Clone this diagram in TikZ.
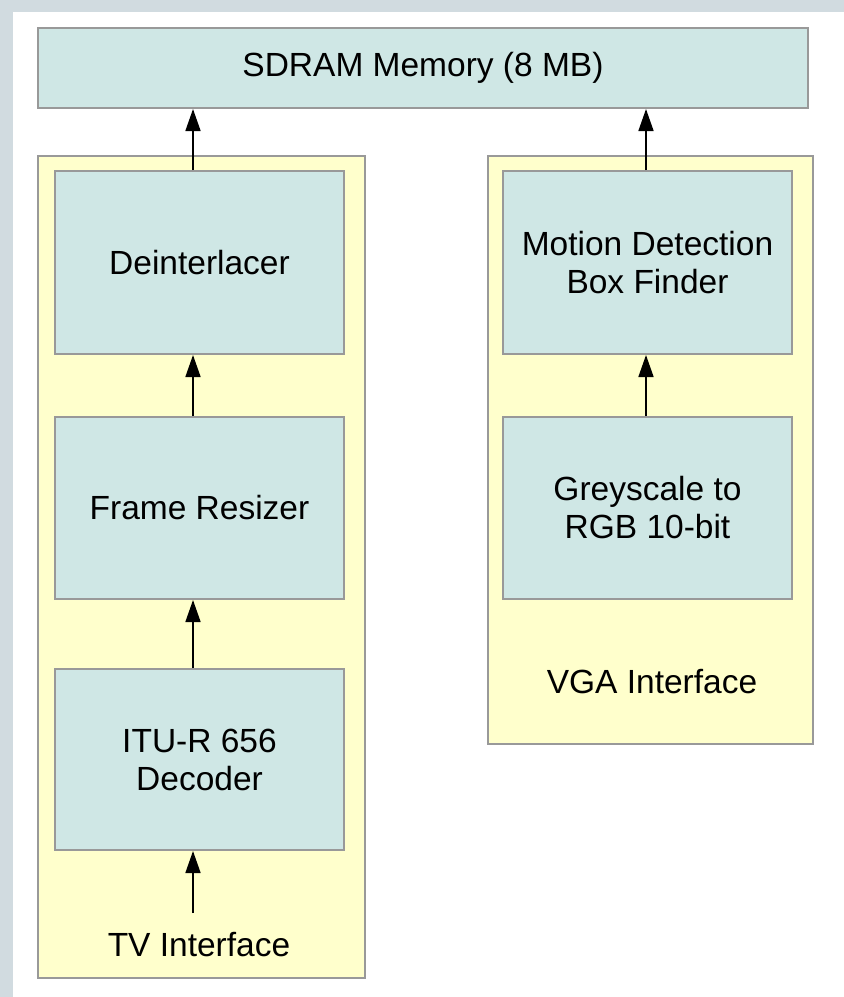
\documentclass[tikz,border=0pt]{standalone}
\usepackage{fontspec}
\setmainfont{Liberation Sans}
\usetikzlibrary{arrows.meta}
\definecolor{framebg}{HTML}{D1DBE0}
\definecolor{boxfill}{HTML}{CFE7E5}
\definecolor{contfill}{HTML}{FFFFCC}
\definecolor{edge}{HTML}{999999}
\begin{document}
\begin{tikzpicture}[x=1pt,y=-1pt,
  lbl/.style={font=\fontsize{33.5}{38}\selectfont, align=center, text=black},
  box/.style={draw=edge, line width=2pt, fill=boxfill, inner sep=0pt, lbl},
  cont/.style={draw=edge, line width=2pt, fill=contfill, inner sep=0pt},
  arr/.style={-{Triangle[length=22pt,width=15pt]}, line width=1.6pt, black}]
\useasboundingbox (0,0) rectangle (844,997);
\fill[framebg] (0,0) rectangle (844,997);
\fill[white] (13,12) rectangle (844,997);
% containers
\node[cont, minimum width=327pt, minimum height=822pt, anchor=north west] (tv) at (37,155) {};
\node[cont, minimum width=325pt, minimum height=588pt, anchor=north west] (vga) at (487,155) {};
% boxes
\node[box, minimum width=770pt, minimum height=80pt, anchor=north west] (sdram) at (37,27) {SDRAM Memory (8 MB)};
\node[box, minimum width=289pt, minimum height=183pt, anchor=north west] (deint) at (54,170) {Deinterlacer};
\node[box, minimum width=289pt, minimum height=182pt, anchor=north west] (resz) at (54,416) {Frame Resizer};
\node[box, minimum width=289pt, minimum height=181pt, anchor=north west] (itu) at (54,668) {ITU-R 656\\Decoder};
\node[box, minimum width=289pt, minimum height=183pt, anchor=north west] (motion) at (502,170) {Motion Detection\\Box Finder};
\node[box, minimum width=289pt, minimum height=182pt, anchor=north west] (grey) at (502,416) {Greyscale to\\RGB 10-bit};
% labels
\node[lbl] (tvlbl) at (199,945) {TV Interface};
\node[lbl] (vgalbl) at (652,682) {VGA Interface};
% connectors
\coordinate (lx) at (193,0);
\coordinate (rx) at (646,0);
\coordinate (tvin) at (193,913);
\draw[arr] (deint.north -| lx) -- (sdram.south -| lx);
\draw[arr] (resz.north -| lx) -- (deint.south -| lx);
\draw[arr] (itu.north -| lx) -- (resz.south -| lx);
\draw[arr] (tvin) -- (itu.south -| lx);
\draw[arr] (motion.north -| rx) -- (sdram.south -| rx);
\draw[arr] (grey.north -| rx) -- (motion.south -| rx);
\end{tikzpicture}
\end{document}
